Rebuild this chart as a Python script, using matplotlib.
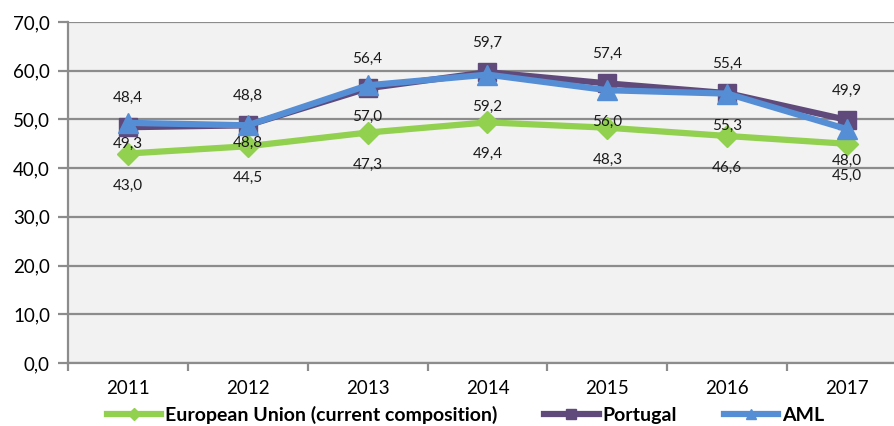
import matplotlib
matplotlib.use("Agg")
import matplotlib.pyplot as plt
from matplotlib.ticker import FixedLocator, FuncFormatter

years = ["2011", "2012", "2013", "2014", "2015", "2016", "2017"]
eu = [43.0, 44.5, 47.3, 49.4, 48.3, 46.6, 45.0]
portugal = [48.4, 48.8, 56.4, 59.7, 57.4, 55.4, 49.9]
aml = [49.3, 48.8, 57.0, 59.2, 56.0, 55.3, 48.0]

# label offsets in points (style only)
pt_off = [21] * 7
aml_off = [-15, -13, -23, -23, -23, -23, -23]
eu_off = [-23] * 7

plt.rcParams['font.family'] = ['Lato', 'DejaVu Sans']

fig = plt.figure(figsize=(8.95, 4.26), dpi=100)
ax = fig.add_axes([68/895, 1-363/426, (907-68)/895, (363-22)/426])
ax.set_facecolor('#F2F2F2')

x = list(range(len(years)))
c_eu, c_pt, c_aml = '#92D050', '#604A7B', '#558ED5'
ax.plot(x, eu, color=c_eu, lw=4.5, marker='D', ms=11, mec=c_eu, zorder=3,
        label='European Union (current composition)', solid_joinstyle='round')
ax.plot(x, portugal, color=c_pt, lw=4.5, marker='s', ms=13, mec=c_pt, zorder=4,
        label='Portugal')
ax.plot(x, aml, color=c_aml, lw=4.5, marker='^', ms=14, mec=c_aml, zorder=5,
        label='AML')

def fmt(v):
    return f"{v:.1f}".replace('.', ',')

for i in x:
    ax.annotate(fmt(portugal[i]), (i, portugal[i]), xytext=(0, pt_off[i]),
                textcoords='offset points', ha='center', va='center', fontsize=11,
                color='#1a1a1a', zorder=6)
    ax.annotate(fmt(aml[i]), (i, aml[i]), xytext=(0, aml_off[i]),
                textcoords='offset points', ha='center', va='center', fontsize=11,
                color='#1a1a1a', zorder=6)
    ax.annotate(fmt(eu[i]), (i, eu[i]), xytext=(0, eu_off[i]),
                textcoords='offset points', ha='center', va='center', fontsize=11,
                color='#1a1a1a', zorder=6)

ax.set_xlim(-0.5, len(years) - 0.5)
ax.set_ylim(0, 70)
ax.set_yticks(range(0, 71, 10))
ax.yaxis.set_major_formatter(FuncFormatter(lambda v, p: fmt(v)))
ax.grid(axis='y', color='#8C8C8C', lw=1.6, zorder=1)
ax.set_axisbelow(True)

ax.set_xticks(x)
ax.set_xticklabels(years)
ax.xaxis.set_minor_locator(FixedLocator([i - 0.5 for i in range(len(years) + 1)]))
ax.tick_params(axis='x', which='major', length=0, pad=12, labelsize=13.5)
ax.tick_params(axis='x', which='minor', length=6, width=1.6, color='#8C8C8C')
ax.tick_params(axis='y', length=7, width=1.6, color='#8C8C8C', labelsize=13.5, pad=6)

for s in ['top', 'right']:
    ax.spines[s].set_visible(False)
for s in ['left', 'bottom']:
    ax.spines[s].set_color('#8C8C8C')
    ax.spines[s].set_linewidth(1.6)

leg = fig.legend(loc='center', bbox_to_anchor=(0.52, 1-415/426), ncol=3, frameon=False,
                 prop={'weight': 'bold', 'size': 14}, handlelength=2.8,
                 columnspacing=2.4, handletextpad=0.2, markerscale=0.55)

fig.savefig('out.png', dpi=100)
